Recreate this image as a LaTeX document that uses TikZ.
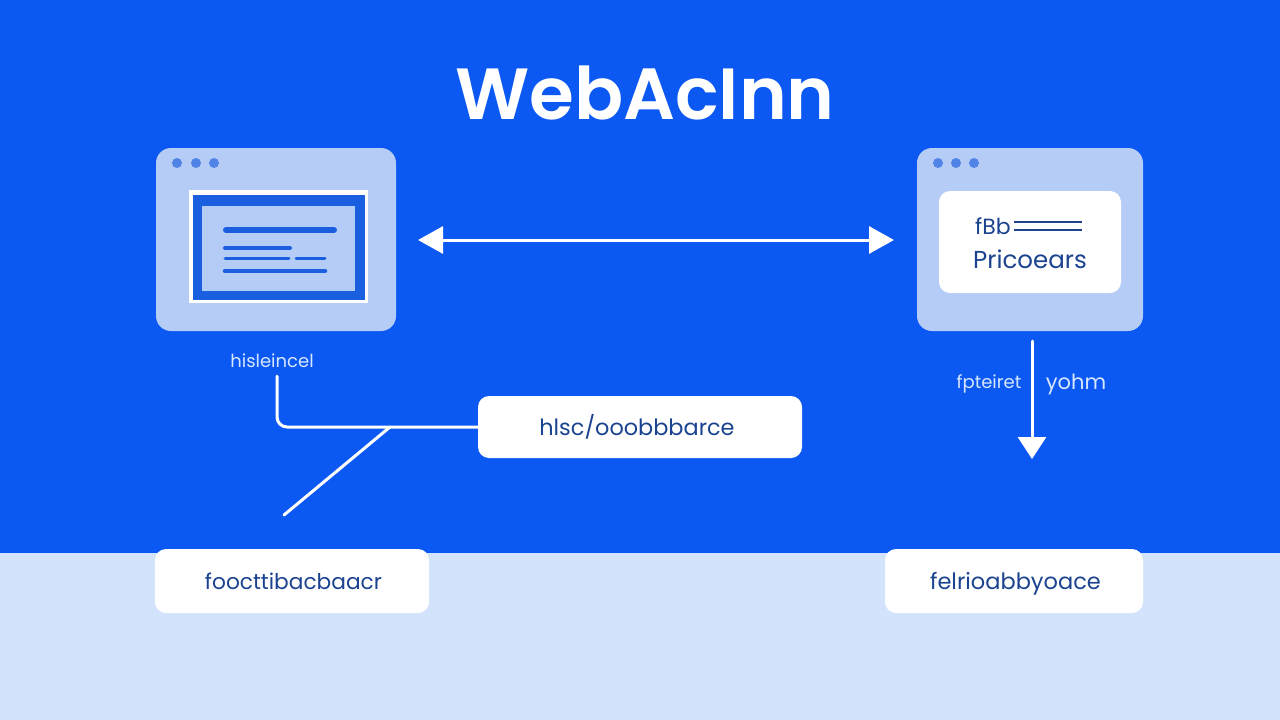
\documentclass[tikz,border=0pt]{standalone}
\usepackage{fontspec}
\setmainfont{Poppins}
\newfontfamily\titlefont{Poppins SemiBold}
\usetikzlibrary{arrows.meta}
\definecolor{bgblue}{HTML}{0C58F2}
\definecolor{pale}{HTML}{D3E3FB}
\definecolor{win}{HTML}{B5CCF6}
\definecolor{dotc}{HTML}{4F83E6}
\definecolor{ink}{HTML}{1B4390}
\definecolor{inblue}{HTML}{1A5FDF}
\definecolor{lbl}{HTML}{D5E6FF}
\tikzset{
  x=1pt,y=-1pt,
  winbox/.style={fill=win,rounded corners=15pt,minimum height=183pt,inner sep=0pt,draw=none},
  whitebox/.style={fill=white,rounded corners=11pt,inner sep=0pt,text=ink,text height=19pt,text depth=2pt,draw=none},
  dotn/.style={circle,fill=dotc,minimum size=10pt,inner sep=0pt},
  tiny label/.style={text=lbl,font=\fontsize{18}{20}\selectfont,inner sep=0pt},
  wire/.style={draw=white,line width=3pt,line cap=round},
  dbl/.style={wire,{Triangle[length=25pt,width=27pt]}-{Triangle[length=25pt,width=27pt]}},
  down/.style={wire,-{Triangle[length=22pt,width=28pt]}},
  bar/.style={draw=inblue,line cap=round},
}
\begin{document}
\begin{tikzpicture}
\useasboundingbox (0,0) rectangle (1280,720);
\fill[bgblue] (0,0) rectangle (1280,553);
\fill[pale] (0,553) rectangle (1280,720);
\node[text=white,inner sep=0pt,font=\fontsize{72.5}{80}\selectfont\titlefont] (title) at (645,93) {WebAcInn};
% left window
\node[winbox,minimum width=240pt] (winL) at (276,239.5) {};
\foreach \n/\x in {a/177,b/196,c/214} \node[dotn] (dl\n) at (\x,163) {};
\fill[white] (189,190) rectangle (368,303);
\fill[inblue] (193,195) rectangle (365,300);
\fill[win] (202,206) rectangle (355,291);
\draw[bar,line width=6pt] (226,230) -- (334,230);
\draw[bar,line width=4pt] (225,248) -- (290,248);
\draw[bar,line width=3pt] (225,258) -- (289,258);
\draw[bar,line width=3pt] (296,258) -- (325,258);
\draw[bar,line width=4.5pt] (225,271) -- (325,271);
\node[tiny label] (lblL) at (272,361) {hisleincel};
% right window
\node[winbox,minimum width=226pt] (winR) at (1030,239.5) {};
\foreach \n/\x in {a/938,b/956,c/974} \node[dotn] (dr\n) at (\x,163) {};
\node[whitebox,minimum width=182pt,minimum height=102pt] (card) at (1030,242) {};
\node[text=ink,inner sep=0pt,font=\fontsize{22}{24}\selectfont] (fbb) at (993,226) {fBb};
\draw[draw=ink,line width=2.5pt] (1014,222) -- (1082,222);
\draw[draw=ink,line width=2.5pt] (1014,230) -- (1082,230);
\node[text=ink,inner sep=0pt,font=\fontsize{24.5}{26}\selectfont] (pric) at (1030,259) {Pricoears};
% boxes
\node[whitebox,minimum width=324pt,minimum height=62pt,font=\fontsize{22.4}{24}\selectfont] (mid) at (640,427) {hlsc/ooobbbarce\kern6pt};
\node[whitebox,minimum width=274pt,minimum height=64pt,font=\fontsize{21.7}{24}\selectfont] (footL) at (292,581) {\kern3pt foocttibacbaacr};
\node[whitebox,minimum width=258pt,minimum height=64pt,font=\fontsize{22.5}{24}\selectfont] (footR) at (1014,581) {\kern3pt felrioabbyoace};
% double arrow
\coordinate (dblL) at (418,240);
\coordinate (dblR) at (894,240);
\draw[dbl] (dblL) -- (dblR);
% down arrow and labels
\coordinate (dnA) at (1032,341);
\coordinate (dnB) at (1032,459);
\draw[down] (dnA) -- (dnB);
\node[tiny label] (lblR1) at (989,384) {fpteiret};
\node[tiny label,font=\fontsize{21}{22}\selectfont] (lblR2) at (1076,384) {yohm};
% connectors
\coordinate (elbowA) at (277,376);
\coordinate (elbowC) at (277,427);
\coordinate (jn) at (390,427);
\coordinate (diagEnd) at (284,515);
\draw[wire,rounded corners=10pt] (elbowA) -- (elbowC) -- (mid.west);
\draw[wire] (jn) -- (diagEnd);
\end{tikzpicture}
\end{document}
